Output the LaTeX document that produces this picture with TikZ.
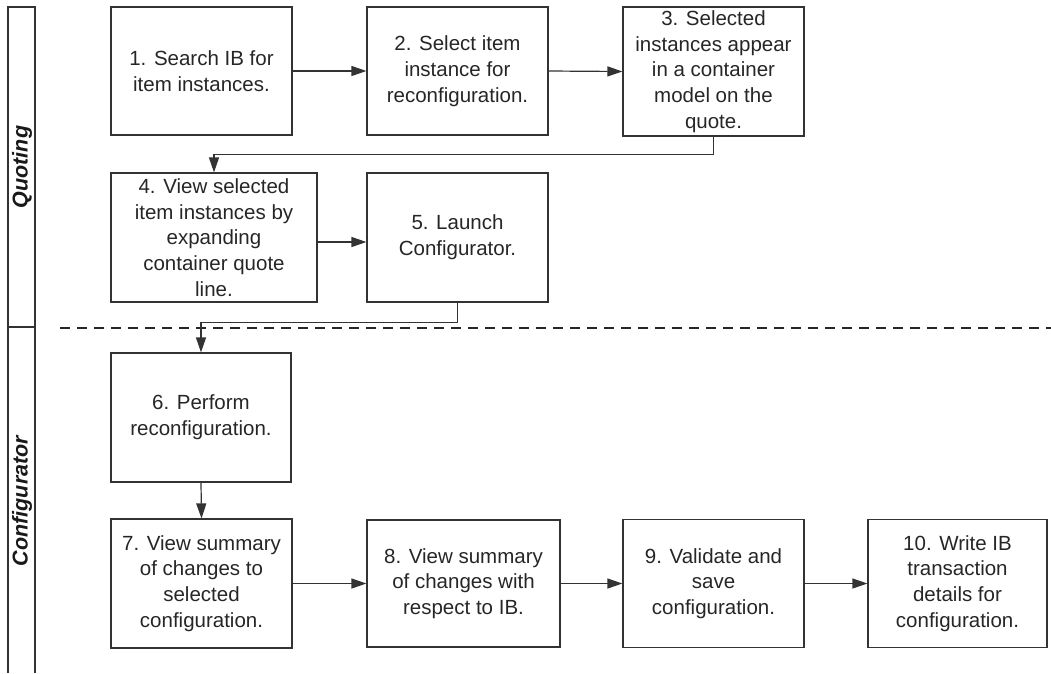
\documentclass[tikz,border=0pt]{standalone}
\usepackage{fontspec}
\setmainfont{Liberation Sans}
\usetikzlibrary{arrows.meta}
\begin{document}
\begin{tikzpicture}[x=1pt,y=-1pt,
  stepbox/.style={draw=black!80, line width=1.2pt, align=center, inner sep=0pt,
    minimum height=128pt, text=black!85,
    font=\fontsize{20.5}{25.7}\selectfont},
  flow/.style={draw=black!80, line width=1.2pt, -{Triangle[length=15pt,width=10pt]}},
  lane/.style={draw=black!80, line width=1.2pt},
  lanelabel/.style={rotate=90, font=\fontsize{21.5}{24}\selectfont\bfseries\itshape, text=black!90}]
\useasboundingbox (0,0) rectangle (1051,673);
% swimlane frame
\draw[lane] (8,673) -- (8,7) -- (35,7) -- (35,673);
\draw[lane] (8,327) -- (35,327);
\node[lanelabel] (lq) at (22,167) {Quoting};
\node[lanelabel] (lc) at (22,501) {Configurator};
\draw[draw=black!85, line width=1.2pt, dash pattern=on 10pt off 7pt] (60,328) -- (1051,328);
% boxes
\node[stepbox, minimum width=181pt] (b1) at (201.5,71) {1. Search IB for\\item instances.};
\node[stepbox, minimum width=181pt] (b2) at (457.5,71) {2. Select item\\instance for\\reconfiguration.};
\node[stepbox, minimum width=181pt, minimum height=129pt] (b3) at (713.5,71.5) {3. Selected\\instances appear\\in a container\\model on the\\quote.};
\node[stepbox, minimum width=206pt, minimum height=129pt] (b4) at (214,237.5) {4. View selected\\item instances by\\expanding\\container quote\\line.};
\node[stepbox, minimum width=181pt, minimum height=129pt] (b5) at (457.5,237.5) {5. Launch\\Configurator.};
\node[stepbox, minimum width=180pt, minimum height=129pt] (b6) at (201,417.5) {6. Perform\\reconfiguration.};
\node[stepbox, minimum width=181pt, minimum height=129pt] (b7) at (201.5,583.5) {7. View summary\\of changes to\\selected\\configuration.};
\node[stepbox, minimum width=193pt, minimum height=127pt] (b8) at (463.5,583.5) {8. View summary\\of changes with\\respect to IB.};
\node[stepbox, minimum width=181pt, minimum height=128pt] (b9) at (713.5,583.5) {9. Validate and\\save\\configuration.};
\node[stepbox, minimum width=179pt, minimum height=128pt] (b10) at (957.5,583.5) {10. Write IB\\transaction\\details for\\configuration.};
% connectors
\draw[flow] (b1.east) -- (b2.west);
\draw[flow] (b2.east) -- (b3.west);
\draw[flow] (b3.south) -- ++(0,18) -| (b4.north);
\draw[flow] ([yshift=-4.5pt]b4.east) -- ([yshift=-4.5pt]b5.west);
\draw[flow] (b5.south) -- ++(0,20) -| (b6.north);
\draw[flow] (b6.south) -- (b7.north);
\draw[flow] (b7.east) -- (b8.west);
\draw[flow] (b8.east) -- (b9.west);
\draw[flow] (b9.east) -- (b10.west);
\end{tikzpicture}
\end{document}
